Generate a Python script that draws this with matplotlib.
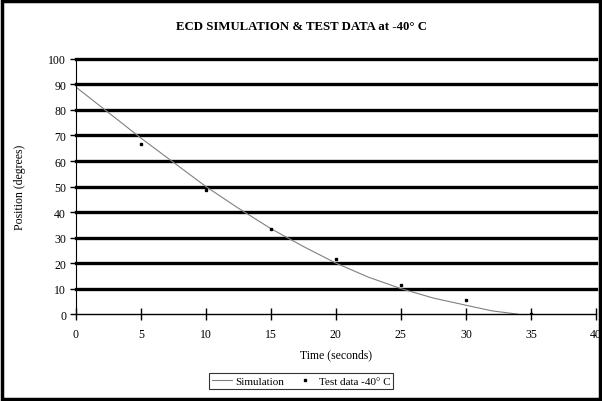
import matplotlib.pyplot as plt
from matplotlib.patches import Rectangle

# simulation curve
sim_t = [0, 2.5, 5, 7.5, 10, 12.5, 15, 17.5, 20, 22.5, 25, 27.5, 30, 32, 34]
sim_pos = [89, 79, 69, 59.5, 50, 41.5, 33.5, 26.5, 20, 14.5, 10, 6.3, 3.5, 1.3, 0]

# test data at -40 C
test_t = [5, 10, 15, 20, 25, 30, 35]
test_pos = [66.5, 48.5, 33.5, 21.5, 11.5, 5.5, 0]

x_ticks = [0, 5, 10, 15, 20, 25, 30, 35, 40]
y_ticks = [0, 10, 20, 30, 40, 50, 60, 70, 80, 90, 100]

plt.rcParams["font.family"] = ["Liberation Serif", "DejaVu Serif"]

fig = plt.figure(figsize=(6.02, 4.02), dpi=100)
ax = fig.add_axes([0.126, 0.216, 0.864, 0.635])

# thick horizontal gridlines
for y in y_ticks[1:]:
    ax.axhline(y, color="black", linewidth=2.4, zorder=1, clip_on=False)

ax.plot(sim_t, sim_pos, color="#808080", linewidth=0.8, label="Simulation", zorder=2)
ax.plot(test_t, test_pos, linestyle="None", marker="s", markersize=1.7,
        color="black", label="Test data -40\u00b0 C", zorder=3)

ax.set_xlim(0, 40)
ax.set_ylim(0, 100)
ax.set_xticks(x_ticks)
ax.set_yticks(y_ticks)
ax.tick_params(axis="x", direction="inout", length=8, width=1, labelsize=8.5, pad=6)
ax.tick_params(axis="y", direction="out", length=4, width=1, labelsize=8.5, pad=3)

for s in ["top", "right"]:
    ax.spines[s].set_visible(False)
ax.spines["left"].set_linewidth(0.8)
ax.spines["bottom"].set_linewidth(1.0)

ax.set_xlabel("Time (seconds)", fontsize=8.5, labelpad=6)
ax.set_ylabel("Position (degrees)", fontsize=8.5, labelpad=16)

fig.text(0.5, 0.933, "ECD SIMULATION & TEST DATA at -40\u00b0 C",
         ha="center", va="center", fontsize=9.2, fontweight="bold")

leg = fig.legend(loc="center", bbox_to_anchor=(0.5, 0.05), ncol=2, fontsize=8,
                 frameon=True, fancybox=False, edgecolor="black",
                 handlelength=1.8, handletextpad=0.3, columnspacing=1.0,
                 borderpad=0.3, markerscale=1.0)
leg.get_frame().set_linewidth(0.8)

# outer border
fig.patches.append(Rectangle((0.004, 0.005), 0.992, 0.99, transform=fig.transFigure,
                             fill=False, edgecolor="black", linewidth=2.5))

fig.savefig("out.png", dpi=100)
